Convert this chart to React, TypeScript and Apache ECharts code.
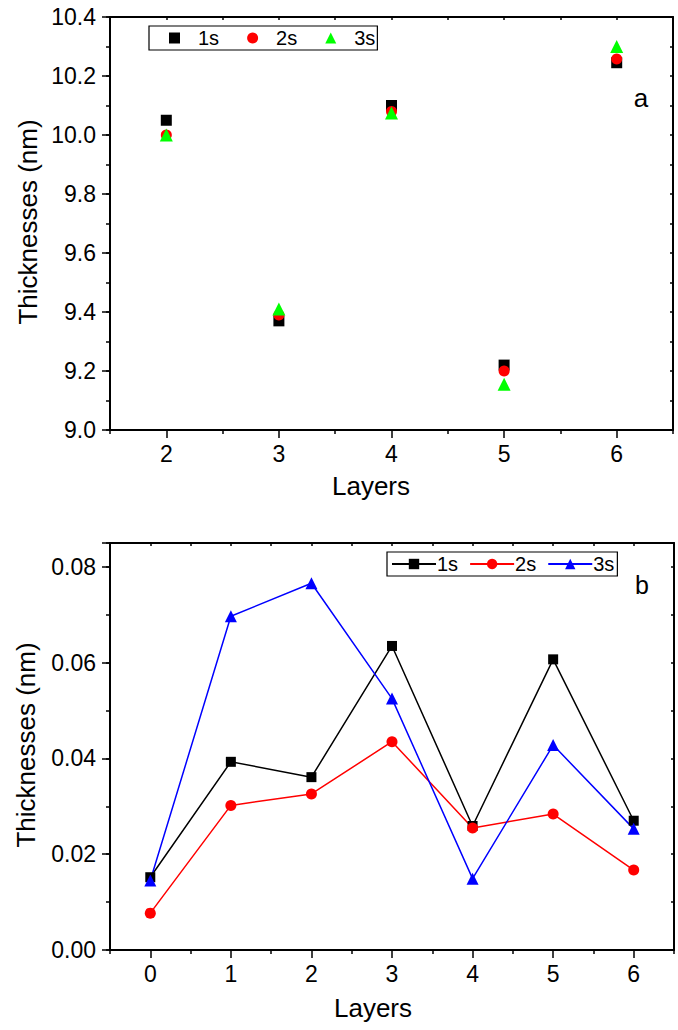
import React, { useEffect, useRef } from 'react';
import * as echarts from 'echarts';

// ---- Panel (a): scatter ----
const layersA = ['2', '3', '4', '5', '6'];
const a1s = [10.05, 9.37, 10.1, 9.22, 10.245];
const a2s = [10.0, 9.39, 10.08, 9.2, 10.258];
const a3s = [10.0, 9.41, 10.075, 9.155, 10.3];

// ---- Panel (b): lines ----
const layersB = ['0', '1', '2', '3', '4', '5', '6'];
const b1s = [0.0152, 0.0393, 0.0361, 0.0635, 0.0259, 0.0607, 0.027];
const b2s = [0.0077, 0.0302, 0.0326, 0.0435, 0.0255, 0.0284, 0.0167];
const b3s = [0.0145, 0.0697, 0.0766, 0.0525, 0.0149, 0.0428, 0.0253];

const namesA = ['1s', '2s', '3s'];
const namesB = ['1s ', '2s ', '3s ']; // distinct series names, trimmed in legend
const colorsA = ['#000000', '#ff0000', '#00ff00'];
const colorsB = ['#000000', '#ff0000', '#0000ff'];
const symbols = ['rect', 'circle', 'triangle'];
const xTitle = 'Layers';
const yTitle = 'Thicknesses (nm)';

const FONT = '"Liberation Sans", Arial, sans-serif';
const tickStyle = { color: '#000', width: 1.5 };

function catAxis(grid: number, data: string[], position: string, opts: any) {
  return {
    gridIndex: grid, type: 'category', data, boundaryGap: true, position,
    axisLine: opts.line ? { show: true, onZero: false, lineStyle: { color: '#000', width: 2 } } : { show: false, onZero: false },
    axisTick: { show: true, alignWithLabel: !!opts.align, inside: !!opts.inside, length: opts.len, lineStyle: tickStyle },
    axisLabel: opts.label ? { show: true, fontSize: 23, color: '#000', margin: 12, fontFamily: FONT } : { show: false },
    splitLine: { show: false },
  };
}
function valAxis(grid: number, min: number, max: number, interval: number, position: string, opts: any) {
  return {
    gridIndex: grid, type: 'value', min, max, interval, position,
    axisLine: opts.line ? { show: true, onZero: false, lineStyle: { color: '#000', width: 2 } } : { show: false, onZero: false },
    axisTick: { show: true, inside: !!opts.inside, length: opts.len, lineStyle: tickStyle },
    axisLabel: opts.label ? { show: true, fontSize: 23, color: '#000', margin: 14, fontFamily: FONT, formatter: opts.label } : { show: false },
    splitLine: { show: false },
  };
}

export default function App() {
  const ref = useRef<HTMLDivElement>(null);
  useEffect(() => {
    if (!ref.current) return;
    const chart = echarts.init(ref.current, undefined, { renderer: 'svg' });
    const dataA = [a1s, a2s, a3s];
    const dataB = [b1s, b2s, b3s];
    const txt = (text: string, x: number, y: number, size: number, rotation = 0) => ({
      type: 'text', x, y, rotation,
      style: { text, fontSize: size, fontFamily: FONT, fill: '#000', align: 'center', verticalAlign: 'middle' },
    });
    chart.setOption({
      animation: false,
      backgroundColor: '#fff',
      grid: [
        { left: 110, top: 17, width: 563, height: 413, outerBoundsMode: 'none' },
        { left: 110, top: 543, width: 564, height: 407, outerBoundsMode: 'none' },
      ],
      xAxis: [
        catAxis(0, layersA, 'bottom', { line: true, align: true, len: 8, label: true }),
        catAxis(0, layersA, 'bottom', { len: 4 }),
        catAxis(0, layersA, 'top', { line: true, align: true, inside: true, len: 3 }),
        catAxis(0, layersA, 'top', { inside: true, len: 3 }),
        catAxis(1, layersB, 'bottom', { line: true, align: true, len: 8, label: true }),
        catAxis(1, layersB, 'bottom', { len: 4 }),
        catAxis(1, layersB, 'top', { line: true, align: true, inside: true, len: 3 }),
        catAxis(1, layersB, 'top', { inside: true, len: 3 }),
      ],
      yAxis: [
        valAxis(0, 9.0, 10.4, 0.2, 'left', { line: true, len: 8, label: (v: number) => v.toFixed(1) }),
        valAxis(0, 9.0, 10.4, 0.1, 'left', { len: 4 }),
        valAxis(0, 9.0, 10.4, 0.1, 'right', { line: true, inside: true, len: 3 }),
        valAxis(1, 0, 0.085, 0.02, 'left', {
          line: true, len: 8,
          label: (v: number) => (Math.abs(v / 0.02 - Math.round(v / 0.02)) < 1e-6 ? v.toFixed(2) : ''),
        }),
        valAxis(1, 0, 0.085, 0.01, 'left', { len: 4 }),
        valAxis(1, 0, 0.085, 0.01, 'right', { line: true, inside: true, len: 3 }),
      ],
      legend: [
        {
          data: namesA, left: 149, top: 26, orient: 'horizontal',
          itemWidth: 11, itemHeight: 11, itemGap: 28,
          padding: [2, 2, 2, 20],
          borderColor: '#000', borderWidth: 1.2,
          textStyle: { fontSize: 20, color: '#000', fontFamily: FONT, padding: [0, 0, 0, 13] },
          selectedMode: false,
        },
        {
          data: namesB, left: 387, top: 552, orient: 'horizontal',
          itemWidth: 44, itemHeight: 13, itemGap: 11,
          padding: [2, 3, 2, 4],
          borderColor: '#000', borderWidth: 1.2,
          formatter: (n: string) => n.trim(),
          textStyle: { fontSize: 20, color: '#000', fontFamily: FONT, padding: [0, 0, 0, -4] },
          selectedMode: false,
        },
      ],
      graphic: [
        txt('a', 641, 98, 26),
        txt('b', 642, 585, 25),
        txt(xTitle, 371, 486, 26),
        txt(xTitle, 373, 1008, 26),
        txt(yTitle, 28, 222, 26, Math.PI / 2),
        txt(yTitle, 26, 745, 26, Math.PI / 2),
      ],
      series: [
        ...namesA.map((n, i) => ({
          name: n, type: 'scatter', xAxisIndex: 0, yAxisIndex: 0,
          data: dataA[i], symbol: symbols[i], symbolSize: i === 2 ? 13 : 11,
          itemStyle: { color: colorsA[i], opacity: 1 },
        })),
        ...namesB.map((n, i) => ({
          name: n, type: 'line', xAxisIndex: 4, yAxisIndex: 3,
          data: dataB[i], symbol: symbols[i], symbolSize: i === 2 ? 12 : i === 1 ? 11 : 10,
          itemStyle: { color: colorsB[i], opacity: 1 },
          lineStyle: { color: colorsB[i], width: 1.5 },
        })),
      ],
    } as any);
    return () => chart.dispose();
  }, []);
  return <div ref={ref} style={{ position: 'absolute', left: 0, top: 0, width: 678, height: 1030, background: '#fff' }} />;
}
